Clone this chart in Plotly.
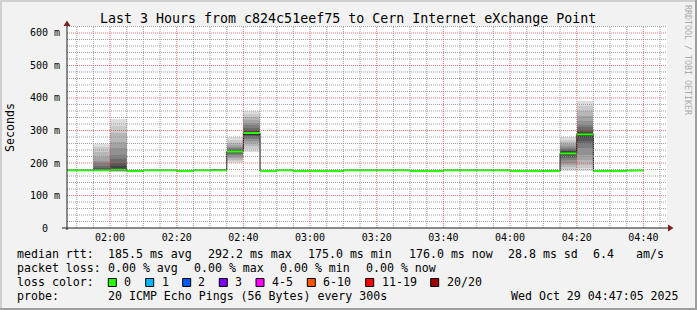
import pandas as pd
import plotly.graph_objects as go

# ---------------- data ----------------
DAY = "2025-10-29"
GRAPH_START = "01:47:05"
GRAPH_END = "04:47:05"
STEP_MIN = 5

interval_end = ["01:50", "01:55", "02:00", "02:05", "02:10", "02:15", "02:20", "02:25",
                "02:30", "02:35", "02:40", "02:45", "02:50", "02:55", "03:00", "03:05",
                "03:10", "03:15", "03:20", "03:25", "03:30", "03:35", "03:40", "03:45",
                "03:50", "03:55", "04:00", "04:05", "04:10", "04:15", "04:20", "04:25",
                "04:30", "04:35", "04:40"]
median_ms = [177.5, 177.5, 177.5, 179.5, 175.0, 177.5, 177.5, 175.0,
             177.5, 177.5, 235.0, 292.2, 175.0, 177.5, 175.0, 175.0,
             175.0, 177.5, 177.5, 177.5, 177.5, 175.0, 175.0, 177.5,
             177.5, 177.5, 177.5, 175.0, 175.0, 175.0, 229.5, 288.0,
             175.0, 175.0, 177.0]

# 20 sorted ping rtts (ms) for the intervals that show smoke
smoke_end = ["02:00", "02:05", "02:10", "02:35", "02:40", "02:45", "04:15", "04:20", "04:25"]
smoke_pings = [
    [175, 175, 175.5, 176, 176, 176.5, 176.5, 177, 177, 177.5,
     178, 181, 186, 192, 199, 207, 219, 235, 248, 258],
    [172, 173, 174, 175, 175, 176, 176, 177, 178, 179,
     183, 191, 199, 212, 226, 245, 266, 291, 315, 335],
    [174, 174, 174.5, 174.5, 175, 175, 175, 175, 175, 175,
     175, 175.5, 175.5, 176, 176, 177, 177, 178, 179, 180],
    [175, 175.5, 176, 176.5, 177, 177, 177, 177.5, 177.5, 177.5,
     177.5, 178, 178, 178.5, 179, 179, 180, 180.5, 181, 182],
    [200, 205, 210, 215, 220, 224, 228, 231, 233, 234,
     236, 238, 240, 243, 246, 250, 255, 262, 272, 281],
    [233, 243, 252, 260, 267, 273, 278, 283, 286, 289,
     294, 298, 303, 309, 316, 324, 333, 342, 351, 360],
    [174, 174, 174.5, 174.5, 175, 175, 175, 175, 175, 175,
     175, 175.5, 175.5, 176, 176, 176.5, 177, 177, 177.5, 178],
    [176, 181, 187, 194, 201, 208, 214, 219, 224, 228,
     233, 236, 239, 243, 247, 252, 258, 264, 272, 281],
    [176, 185, 195, 208, 225, 245, 258, 268, 276, 283,
     291, 296, 302, 310, 318, 330, 345, 360, 376, 391],
]

y_ticks = [0, 100, 200, 300, 400, 500, 600]
y_tick_text = ["0", "100 m", "200 m", "300 m", "400 m", "500 m", "600 m"]

title_text = "Last 3 Hours from c824c51eef75 to Cern Internet eXchange Point"
row_rtt = [("median rtt:", 16), ("185.5 ms avg", 107.3), ("292.2 ms max", 207.3),
           ("175.0 ms min", 307.3), ("176.0 ms now", 407.7), ("28.8 ms sd", 506.7),
           ("6.4", 592.3), ("am/s", 635)]
row_loss = [("packet loss:", 16), ("0.00 % avg", 107.3), ("0.00 % max", 193.3),
            ("0.00 % min", 279.3), ("0.00 % now", 365)]
loss_labels = ["0", "1", "2", "3", "4-5", "6-10", "11-19", "20/20"]
loss_colors = ["#26ff00", "#00b8ff", "#0059ff", "#7e00ff", "#ff00ff", "#ff5500", "#ff0000", "#a00000"]
loss_box_x = [108.3, 145.7, 182.7, 219.3, 256.0, 307.3, 365.7, 430.7]
loss_text_x = [123.3, 160.7, 197.3, 234.3, 270.7, 321.7, 380.7, 445.7]
probe_text = "20 ICMP Echo Pings (56 Bytes) every 300s"
stamp_text = "Wed Oct 29 04:47:05 2025"

# ---------------- geometry ----------------
W, H = 697, 310
L, R, T, B = 67, 30, 26, 82
PW, PH = W - L - R, H - T - B
Y_MAX = 621.5
FONT = "DejaVu Sans Mono"


def ts(hm):
    return pd.Timestamp(f"{DAY} {hm}")


def px(x):
    return (x - L) / PW


def py(y):
    return (T + PH - y) / PH


g_start, g_end = ts(GRAPH_START), ts(GRAPH_END)
step = pd.Timedelta(minutes=STEP_MIN)

fig = go.Figure()

# smoke bands (outer light -> inner dark)
half = 10
for ib in range(1, half + 1):
    shade = int(190 / half * (half - ib)) + 50
    col = "#" + ("%02x" % shade) * 3
    xs, bases, hs = [], [], []
    for e, p in zip(smoke_end, smoke_pings):
        t1 = ts(e)
        xs.append(t1 - step / 2)
        lo, hi = p[ib - 1], p[20 - ib]
        bases.append(lo)
        hs.append(hi - lo)
    fig.add_trace(go.Bar(x=xs, y=hs, base=bases, width=STEP_MIN * 60 * 1000,
                         marker=dict(color=col, line=dict(width=0)),
                         showlegend=False, hoverinfo="skip"))

# median: black step line and green horizontal segments
bx, by, gx, gy = [], [], [], []
for e, m in zip(interval_end, median_ms):
    t1 = ts(e)
    t0 = max(t1 - step, g_start)
    bx += [t0, t1]
    by += [m, m]
    gx += [t0, t1, None]
    gy += [m, m, None]
fig.add_trace(go.Scatter(x=bx, y=by, mode="lines", line=dict(color="#111111", width=1),
                         showlegend=False, hoverinfo="skip"))
fig.add_trace(go.Scatter(x=gx, y=gy, mode="lines", line=dict(color="#26ff00", width=2),
                         showlegend=False, hoverinfo="skip"))

shapes = []
# grid (drawn above like rrdtool)
minor_col = "rgba(140,140,140,0.85)"
major_col = "rgba(225,70,70,0.75)"
t = pd.Timestamp(f"{DAY} 01:50")
vmin, vmaj = [], []
while t < g_end:
    (vmaj if t.minute % 20 == 0 else vmin).append(t)
    t += step
hmin = [v for v in range(20, 640, 20) if v % 100 != 0]
hmaj = [v for v in range(100, 700, 100)]
for v in vmin:
    shapes.append(dict(type="line", xref="x", yref="paper", x0=v, x1=v, y0=0, y1=1,
                       line=dict(color=minor_col, width=1, dash="1px,1px"), layer="above"))
for v in hmin:
    shapes.append(dict(type="line", xref="paper", yref="y", x0=0, x1=1, y0=v, y1=v,
                       line=dict(color=minor_col, width=1, dash="1px,1px"), layer="above"))
for v in vmaj:
    shapes.append(dict(type="line", xref="x", yref="paper", x0=v, x1=v, y0=0, y1=1,
                       line=dict(color=major_col, width=1, dash="1px,1px"), layer="above"))
for v in hmaj:
    shapes.append(dict(type="line", xref="paper", yref="y", x0=0, x1=1, y0=v, y1=v,
                       line=dict(color=major_col, width=1, dash="1px,1px"), layer="above"))

# axes lines and arrows
AX = "#1f1f1f"
ARW = "#801f1f"
shapes.append(dict(type="line", xref="paper", yref="paper", x0=px(62), x1=px(669),
                   y0=py(228), y1=py(228), line=dict(color=AX, width=1), layer="above"))
shapes.append(dict(type="line", xref="paper", yref="paper", x0=px(67), x1=px(67),
                   y0=py(230), y1=py(24), line=dict(color=AX, width=1), layer="above"))
shapes.append(dict(type="path", xref="paper", yref="paper",
                   path=f"M {px(668)} {py(224.5)} L {px(673.5)} {py(228)} L {px(668)} {py(231.5)} Z",
                   fillcolor=ARW, line=dict(width=0), layer="above"))
shapes.append(dict(type="path", xref="paper", yref="paper",
                   path=f"M {px(63.5)} {py(26)} L {px(67)} {py(20.5)} L {px(70.5)} {py(26)} Z",
                   fillcolor=ARW, line=dict(width=0), layer="above"))


# frame shading
def prect(x0, y0, x1, y1, col):
    return dict(type="rect", xref="paper", yref="paper", x0=px(x0), x1=px(x1),
                y0=py(y0), y1=py(y1), fillcolor=col, line=dict(width=0), layer="above")


shapes.append(prect(0, 0, W, 2, "#cfcfcf"))
shapes.append(prect(0, 0, 2, H, "#cfcfcf"))
shapes.append(prect(0, H - 2, W, H, "#9e9e9e"))
shapes.append(prect(W - 2, 0, W, H, "#9e9e9e"))

# loss colour boxes
for bxp, c in zip(loss_box_x, loss_colors):
    shapes.append(dict(type="rect", xref="paper", yref="paper", x0=px(bxp), x1=px(bxp + 8),
                       y0=py(286.5), y1=py(278.5), fillcolor=c,
                       line=dict(color="#000000", width=1), layer="above"))

ann = []


def txt(s, x, y, size=11.6, xanchor="left", color="#000000", angle=0):
    ann.append(dict(text=s, xref="paper", yref="paper", x=px(x), y=py(y), xanchor=xanchor,
                    yanchor="middle", showarrow=False, borderpad=0, textangle=angle,
                    font=dict(family=FONT, size=size, color=color)))


txt(title_text, 348, 19, size=13.3, xanchor="center")
txt("Seconds", 10, 128, size=11.6, xanchor="center", angle=-90)
txt("RRDTOOL / TOBI OETIKER", 688, 60, size=8.3, xanchor="center", color="#aaaaaa", angle=90)
for s, x in row_rtt:
    txt(s, x, 254.3)
for s, x in row_loss:
    txt(s, x, 268.3)
txt("loss color:", 16, 282.3)
for s, x in zip(loss_labels, loss_text_x):
    txt(s, x, 282.3)
txt("probe:", 16, 296.3)
txt(probe_text, 107.3, 296.3)
txt(stamp_text, 680, 296.3, xanchor="right")

for v, s in zip(y_ticks, y_tick_text):
    ann.append(dict(text=s, xref="paper", yref="y", x=px(45), y=v, xanchor="center",
                    yanchor="middle", showarrow=False, borderpad=0,
                    font=dict(family=FONT, size=10, color="#000000")))

fig.update_layout(
    width=W, height=H,
    margin=dict(l=L, r=R, t=T, b=B, pad=0),
    paper_bgcolor="#f2f2f2", plot_bgcolor="#ffffff",
    barmode="overlay", bargap=0,
    showlegend=False,
    shapes=shapes, annotations=ann,
    font=dict(family=FONT, size=10, color="#000000"),
    xaxis=dict(type="date", range=[g_start, g_end], showgrid=False, zeroline=False,
               showline=False, ticks="", tickformat="%H:%M",
               tick0=f"{DAY} 00:00", dtick=20 * 60 * 1000,
               tickfont=dict(family=FONT, size=10, color="#000000"),
               ticklabelstandoff=2, fixedrange=True),
    yaxis=dict(range=[0, Y_MAX], showgrid=False, zeroline=False, showline=False,
               showticklabels=False, ticks="", fixedrange=True),
)

fig.write_html("out.html", config={"displayModeBar": False})
